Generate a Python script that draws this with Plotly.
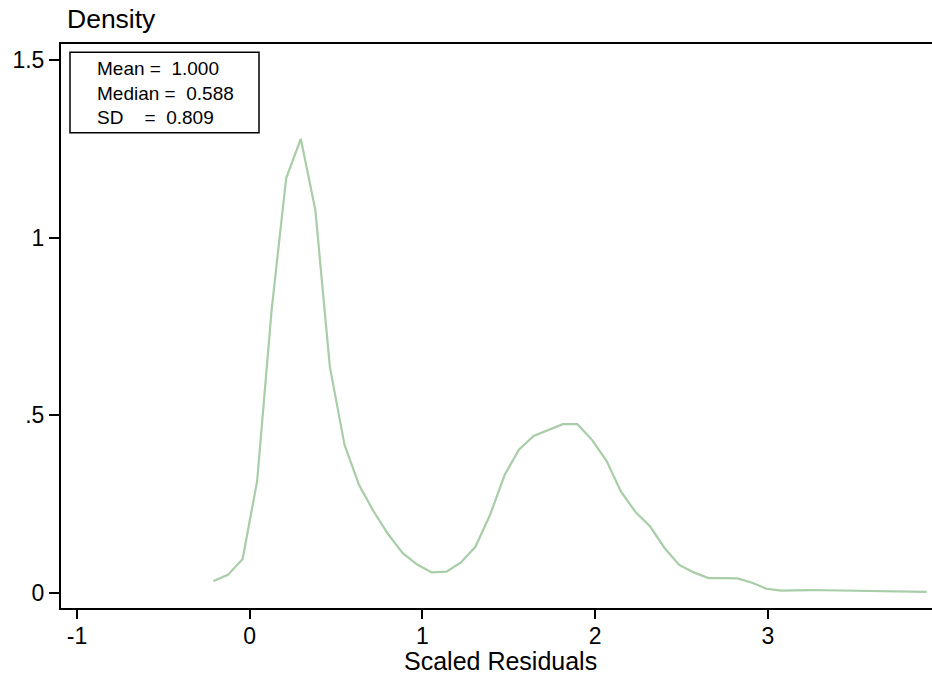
import plotly.graph_objects as go

# Kernel density estimate of the scaled residuals (50 evaluation points)
resid_x = [-0.210, -0.126, -0.041, 0.043, 0.127, 0.211, 0.296, 0.380, 0.464, 0.549,
           0.633, 0.717, 0.801, 0.886, 0.970, 1.054, 1.139, 1.223, 1.307, 1.392,
           1.476, 1.560, 1.644, 1.729, 1.813, 1.897, 1.982, 2.066, 2.150, 2.234,
           2.319, 2.403, 2.487, 2.572, 2.656, 2.740, 2.825, 2.909, 2.993, 3.077,
           3.161, 3.246, 3.330, 3.414, 3.499, 3.583, 3.667, 3.751, 3.836, 3.920]
density = [0.034, 0.051, 0.096, 0.315, 0.797, 1.167, 1.278, 1.078, 0.637, 0.417,
           0.304, 0.230, 0.166, 0.112, 0.080, 0.058, 0.060, 0.086, 0.130, 0.220,
           0.332, 0.404, 0.442, 0.459, 0.475, 0.475, 0.431, 0.372, 0.285, 0.228,
           0.187, 0.126, 0.079, 0.058, 0.042, 0.042, 0.041, 0.029, 0.012, 0.0065,
           0.0083, 0.0083, 0.0078, 0.0073, 0.0068, 0.0062, 0.0056, 0.0048, 0.0040, 0.0030]

x_ticks = [-1, 0, 1, 2, 3]
x_tick_labels = ["-1", "0", "1", "2", "3"]
y_ticks = [0, 0.5, 1, 1.5]
y_tick_labels = ["0", ".5", "1", "1.5"]

stat_names = ["Mean", "Median", "SD\u00a0\u00a0\u00a0"]
stat_values = [1.000, 0.588, 0.809]

FONT = "Liberation Sans, Arial, Helvetica, sans-serif"
W, H = 932, 677
L, R, T, B = 61, 0, 44, 69
PW, PH = W - L - R, H - T - B


def px_x(p):
    return (p - L) / PW


def px_y(p):
    return (H - B - p) / PH


fig = go.Figure()
fig.add_trace(go.Scatter(
    x=resid_x, y=density, mode="lines",
    line=dict(color="rgb(168,205,168)", width=2.2),
    showlegend=False, hoverinfo="skip",
))

# stats box
fig.add_shape(type="rect", xref="paper", yref="paper",
              x0=px_x(70), x1=px_x(259), y0=px_y(132.7), y1=px_y(52.3),
              line=dict(color="black", width=1.5), fillcolor="white", layer="above")

stats_text = "<br>".join(f"{n} =\u00a0 {v:.3f}" for n, v in zip(stat_names, stat_values))
fig.add_annotation(
    xref="paper", yref="paper", x=px_x(94.5), y=px_y(93.3),
    xanchor="left", yanchor="middle", align="left", showarrow=False,
    text=stats_text,
    font=dict(family=FONT, size=19, color="black"),
)

# axis titles
fig.add_annotation(
    xref="paper", yref="paper", x=px_x(64.5), y=px_y(19.5),
    xanchor="left", yanchor="middle", showarrow=False,
    text="Density", font=dict(family=FONT, size=26.5, color="black"),
)
fig.add_annotation(
    xref="paper", yref="paper", x=px_x(501), y=px_y(661),
    xanchor="center", yanchor="middle", showarrow=False,
    text="Scaled Residuals", font=dict(family=FONT, size=25, color="black"),
)

fig.update_layout(
    width=W, height=H, autosize=False,
    margin=dict(l=L, r=R, t=T, b=B, pad=0),
    plot_bgcolor="white", paper_bgcolor="white",
    font=dict(family=FONT, color="black"),
)
fig.update_xaxes(
    range=[-1.0927, 3.9507], tickvals=x_ticks, ticktext=x_tick_labels,
    showline=True, linecolor="black", linewidth=2, mirror=True,
    ticks="outside", ticklen=9, tickwidth=1.5, tickcolor="black",
    showgrid=False, zeroline=False, tickfont=dict(size=23),
    ticklabelstandoff=-3,
)
fig.update_yaxes(
    range=[-0.0422, 1.545], tickvals=y_ticks, ticktext=y_tick_labels,
    showline=True, linecolor="black", linewidth=2,
    ticks="outside", ticklen=10, tickwidth=1.5, tickcolor="black",
    showgrid=False, zeroline=False, tickfont=dict(size=23),
)

fig.write_html("out.html")
